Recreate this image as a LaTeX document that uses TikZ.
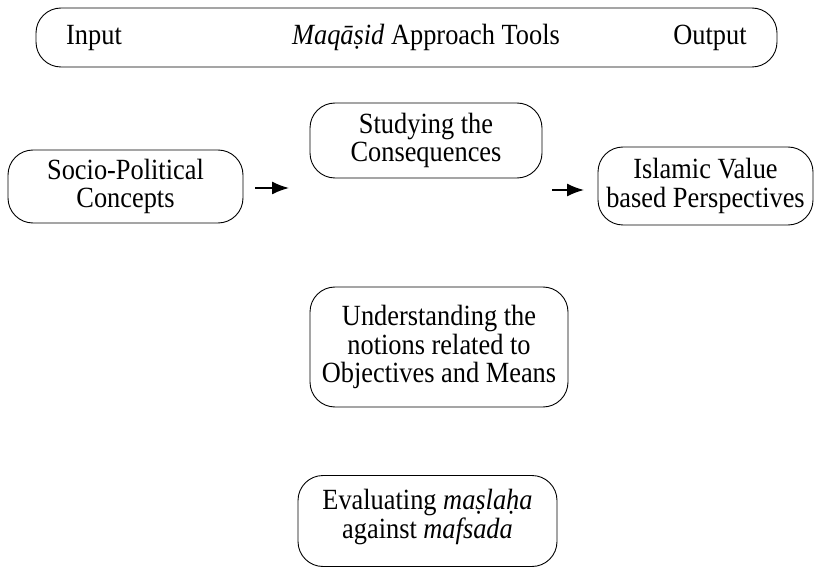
\documentclass[tikz,border=0pt]{standalone}
\usepackage{fontspec}
\setmainfont{Liberation Serif}[FakeStretch=0.9]
\usetikzlibrary{arrows.meta}
\begin{document}
\begin{tikzpicture}[x=1pt,y=-1pt,
  box/.style={draw=black, line width=0.9pt, rounded corners=25pt, align=center, inner sep=0pt,
    font=\fontsize{29.3}{28.5}\selectfont},
  lbl/.style={inner sep=0pt, anchor=base, font=\fontsize{29.3}{28.5}\selectfont},
  arr/.style={line width=1.7pt, -{Latex[length=17pt,width=13pt]}}]
\useasboundingbox (0,0) rectangle (815,567);
% top bar
\node[box, minimum width=741pt, minimum height=59pt] (bar) at (406.5,37.5) {};
\node[lbl] (input) at (94,45) {Input};
\node[lbl] (tools) at (426,45) {\textit{Maqāṣid} Approach Tools};
\node[lbl] (output) at (710,45) {Output};
% main boxes
\node[box, minimum width=235pt, minimum height=73pt] (socio) at (125.5,186.5) {Socio-Political\\Concepts};
\node[box, minimum width=232pt, minimum height=75pt] (study) at (426,140.5) {Studying the\\Consequences};
\node[box, minimum width=215pt, minimum height=78pt] (islam) at (705.5,186) {Islamic Value\\based Perspectives};
\node[box, minimum width=258pt, minimum height=120pt] (under) at (439,347) {Understanding the\\notions related to\\Objectives and Means};
\node[box, minimum width=259pt, minimum height=91pt] (eval) at (427.5,521) {};
\node[lbl, align=center, anchor=center] (evaltext) at (427.5,517) {Evaluating \textit{maṣlaḥa}\\against \textit{mafsada}};
% arrows
\coordinate (a1s) at (255,188);
\coordinate (a1e) at (289,188);
\coordinate (a2s) at (552,190);
\coordinate (a2e) at (584,190);
\draw[arr] (a1s) -- (a1e);
\draw[arr] (a2s) -- (a2e);
\end{tikzpicture}
\end{document}
